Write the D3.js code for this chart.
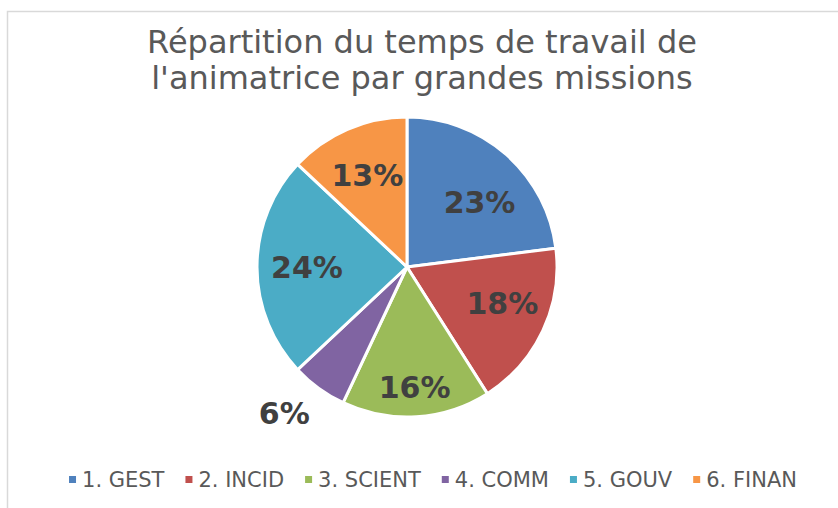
<!DOCTYPE html>
<html>
<head>
<meta charset="utf-8">
<script src="https://cdn.jsdelivr.net/npm/d3@7"></script>
<style>
  body { margin: 0; background: #fff; }
  svg { display: block; font-family: 'DejaVu Sans', Verdana, sans-serif; }
</style>
</head>
<body>
<div id="app"></div>
<script>
/* global d3 */

// Data
const categories = ['1. GEST', '2. INCID', '3. SCIENT', '4. COMM', '5. GOUV', '6. FINAN'];
const shares = [23, 18, 16, 6, 24, 13];
const colors = ['#4F81BD', '#C0504D', '#9BBB59', '#8064A2', '#4BACC6', '#F79646'];
const titleLines = ['Répartition du temps de travail de', "l'animatrice par grandes missions"];

// Constants
const width = 838;
const height = 508;
const cx = 407;
const cy = 267;
const radius = 150;

const svg = d3.select('#app')
  .append('svg')
  .attr('width', width)
  .attr('height', height);

// Frame (chart area border, partly cut off)
svg.append('path')
  .attr('d', `M7.5,${height} L7.5,11.5 L${width},11.5`)
  .attr('fill', 'none')
  .attr('stroke', '#d9d9d9')
  .attr('stroke-width', 1.5);

// Title
svg.append('text')
  .attr('text-anchor', 'middle')
  .attr('fill', '#595959')
  .style('font-size', '32px')
  .selectAll('tspan')
  .data(titleLines)
  .join('tspan')
  .attr('x', 422)
  .attr('y', (d, i) => 53 + i * 36)
  .text((d) => d);

// Pie
const pie = d3.pie().sort(null).value((d) => d);
const arcs = pie(shares);
const arc = d3.arc().innerRadius(0).outerRadius(radius);

const plot = svg.append('g')
  .attr('transform', `translate(${cx}, ${cy})`);

plot.selectAll('path')
  .data(arcs)
  .join('path')
  .attr('d', arc)
  .attr('fill', (d, i) => colors[i])
  .attr('stroke', '#fff')
  .attr('stroke-width', 3)
  .attr('stroke-linejoin', 'round');

// Labels: "best fit" like Excel - inside for big slices, outside for small ones
// small nudges (angle in degrees, radius) to follow Excel's placement
const nudge = {
  0: { da: 7, r: 97 },
  1: { da: -4.5, r: 102 },
  2: { da: 0, r: 121 },
  3: { da: 4, r: 191 },
};
function labelPos(d, i) {
  const n = nudge[i] || { da: 0, r: 100 };
  const a = (d.startAngle + d.endAngle) / 2 + (n.da * Math.PI) / 180;
  return [Math.sin(a) * n.r, -Math.cos(a) * n.r];
}

plot.selectAll('text.lbl')
  .data(arcs)
  .join('text')
  .attr('class', 'lbl')
  .attr('text-anchor', 'middle')
  .attr('dominant-baseline', 'central')
  .attr('fill', '#404040')
  .style('font-size', '30px')
  .style('font-weight', 'bold')
  .attr('x', (d, i) => labelPos(d, i)[0])
  .attr('y', (d, i) => labelPos(d, i)[1])
  .text((d) => `${d.value}%`);

// Legend
const legend = svg.append('g').attr('id', 'legend');
const items = legend.selectAll('g')
  .data(categories)
  .join('g');

items.append('rect')
  .attr('width', 7)
  .attr('height', 7)
  .attr('y', -4)
  .attr('fill', (d, i) => colors[i]);

items.append('text')
  .attr('x', 13)
  .attr('dominant-baseline', 'central')
  .attr('fill', '#595959')
  .style('font-size', '21px')
  .text((d) => d);

let offset = 0;
const gap = 21;
items.each(function place() {
  const g = d3.select(this);
  const w = 13 + g.select('text').node().getComputedTextLength();
  g.attr('transform', `translate(${offset}, 0)`);
  offset += w + gap;
});
const legendWidth = offset - gap;
legend.attr('transform', `translate(${433 - legendWidth / 2}, 480)`);
</script>
</body>
</html>
